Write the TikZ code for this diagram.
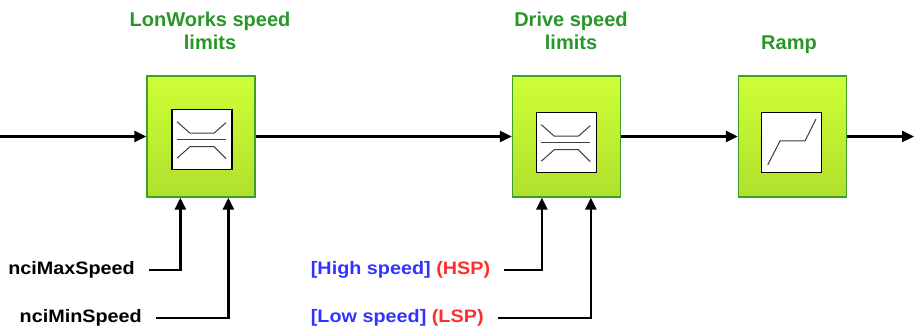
\documentclass[tikz,border=0pt]{standalone}
\usepackage{fontspec}
\setmainfont{Liberation Sans}
\newfontfamily\labfam{Liberation Sans}[FakeStretch=1.1]
\usetikzlibrary{arrows.meta}
\definecolor{blktop}{RGB}{206,255,55}
\definecolor{blkbot}{RGB}{176,224,44}
\definecolor{blkborder}{RGB}{60,160,40}
\definecolor{ttlgreen}{RGB}{40,150,40}
\definecolor{lblue}{RGB}{51,51,255}
\definecolor{lred}{RGB}{255,45,45}
\definecolor{iconink}{RGB}{60,60,60}
\begin{document}
\begin{tikzpicture}[x=1pt,y=1pt,
  block/.style={draw=blkborder, line width=1.3pt, top color=blktop, bottom color=blkbot,
    minimum width=108pt, minimum height=121pt, inner sep=0pt},
  icon/.style={draw=black, line width=1.4pt, fill=white, minimum size=60pt, inner sep=0pt},
  iconline/.style={draw=iconink, line width=1pt},
  flow/.style={line width=2.4pt, -{Triangle[length=12pt,width=11pt]}},
  title/.style={text=ttlgreen, font=\fontsize{20}{22.5}\selectfont\bfseries, align=center, inner sep=0pt},
  lab/.style={font=\labfam\fontsize{18}{20}\selectfont\bfseries, inner xsep=14pt, inner ysep=0pt},
  limiter/.pic={
    \draw[iconline] (-25,18) -- (-12,6.5) -- (12,6.5) -- (24,17);
    \draw[iconline, line width=1.3pt] (-25,0) -- (24,0);
    \draw[iconline] (-25,-18.5) -- (-12,-7) -- (12,-7) -- (24,-19);
  },
  ramp/.pic={
    \draw[iconline] (-23.6,-22.5) -- (-11.3,1.5) -- (13.7,1.5) -- (24.7,23.5);
  }
]
\useasboundingbox (0,0) rectangle (914,331);

% blocks
\node[block] (b1) at (201,194.5) {};
\node[block] (b2) at (566.5,194.5) {};
\node[block] (b3) at (792.5,194.5) {};

\node[icon] (i1) at (202,191.3) {};
\node[icon] (i2) at (566.3,188.3) {};
\node[icon] (i3) at (791.3,188.5) {};
\pic at (i1.center) {limiter};
\pic at (i2.center) {limiter};
\pic at (i3.center) {ramp};

% titles
\node[title, anchor=north] (t1) at (210,319) {LonWorks speed\\limits};
\node[title, anchor=north] (t2) at (571,319) {Drive speed\\limits};
\node[title, anchor=base] (t3) at (789,281.5) {Ramp};

% main flow
\coordinate (src) at (0,194.5);
\coordinate (dst) at (914,194.5);
\draw[flow] (src) -- (b1.west);
\draw[flow] (b1.east) -- (b2.west);
\draw[flow] (b2.east) -- (b3.west);
\draw[flow] (b3.east) -- (dst);

% labels
\node[lab, anchor=east] (max) at (149,61) {nciMaxSpeed};
\node[lab, anchor=east] (min) at (156,13) {nciMinSpeed};
\node[lab, anchor=west] (hsp) at (296.7,61) {\textcolor{lblue}{[High speed]} \textcolor{lred}{(HSP)}};
\node[lab, anchor=west] (lsp) at (296.7,13) {\textcolor{lblue}{[Low speed]} \textcolor{lred}{(LSP)}};

\draw[flow] (max.east) -| ([xshift=34pt]b1.south west);
\draw[flow] (min.east) -| ([xshift=82pt]b1.south west);
\draw[flow] (hsp.east) -| ([xshift=30pt]b2.south west);
\draw[flow] (lsp.east) -| ([xshift=79pt]b2.south west);
\end{tikzpicture}
\end{document}
